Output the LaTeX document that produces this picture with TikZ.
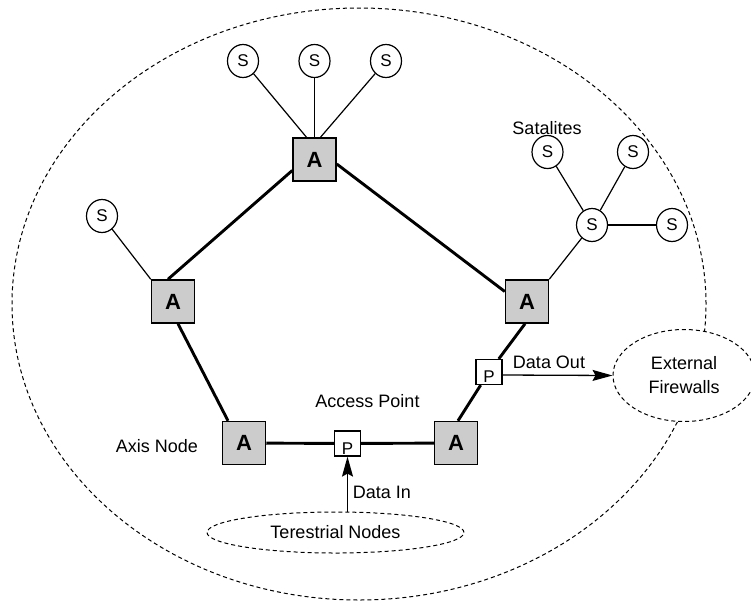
\documentclass[tikz,border=0pt]{standalone}
\usepackage{fontspec}
\setmainfont{Liberation Sans}
\usetikzlibrary{arrows.meta,shapes.geometric}
\tikzset{
  anode/.style={draw, line width=1.5pt, fill=gray!40, minimum size=43pt, inner sep=0pt,
    font=\fontsize{22}{22}\selectfont\bfseries},
  pnode/.style={draw, line width=1.2pt, fill=white, minimum width=26pt, minimum height=25pt,
    inner sep=0pt, text height=21pt, text depth=0pt, font=\fontsize{17}{17}\selectfont},
  snode/.style={draw, ellipse, line width=1.2pt, fill=white, minimum width=31pt,
    minimum height=33pt, inner sep=0pt, font=\fontsize{17}{17}\selectfont},
  hvy/.style={line width=2.9pt},
  lite/.style={line width=1.2pt},
  dell/.style={draw, ellipse, line width=1pt, dash pattern=on 4pt off 3pt, inner sep=0pt},
  lbl/.style={font=\fontsize{18}{18}\selectfont, inner sep=0pt},
  arr/.style={line width=1.3pt, -{Stealth[length=20pt,width=11pt,inset=3pt]}}
}
\begin{document}
\begin{tikzpicture}[x=1pt,y=-1pt]
\useasboundingbox (0,0) rectangle (751,608);
% outer region
\node[dell, minimum width=694pt, minimum height=592pt] (outer) at (359,304) {};
% external firewalls
\node[dell, fill=white, minimum width=142pt, minimum height=92pt, align=center,
  font=\fontsize{18}{24}\selectfont] (fw) at (684,375.5) {External\\Firewalls};
% terrestrial nodes
\node[dell, fill=white, minimum width=257pt, minimum height=41pt,
  font=\fontsize{18}{18}\selectfont] (terr) at (335.5,532.5) {Terestrial Nodes};

% axis nodes
\node[anode] (topA) at (314.5,159.5) {A};
\node[anode] (leftA) at (173,301.5) {A};
\node[anode] (rA) at (527,301.5) {A};
\node[anode] (blA) at (244,443) {A};
\node[anode] (brA) at (456,443) {A};

% access points
\node[pnode] (bP) at (347.5,443.5) {P};
\node[pnode] (rP) at (489,372) {P};

% satellites
\node[snode] (s1) at (243,61) {S};
\node[snode] (s2) at (314.5,61) {S};
\node[snode] (s3) at (386,61) {S};
\node[snode] (sl) at (102,216) {S};
\node[snode] (hub) at (592,225) {S};
\node[snode] (stl) at (547.5,152) {S};
\node[snode] (str) at (633,152) {S};
\node[snode] (sr) at (672,225) {S};

% heavy ring
\draw[hvy] ([yshift=-11pt]topA.west) -- ([xshift=-5pt]leftA.north);
\draw[hvy] ([yshift=-4.5pt]topA.east) -- ([yshift=10pt]rA.west);
\draw[hvy] ([xshift=5pt]leftA.south) -- ([xshift=-16pt]blA.north);
\draw[hvy] (blA) -- (bP);
\draw[hvy] (bP) -- (brA);
\draw[hvy] ([xshift=2pt]brA.north) -- (rP);
\draw[hvy] (rP) -- ([xshift=-2pt]rA.south);

% satellite links
\draw[lite] (s1) -- ([xshift=-8pt]topA.north);
\draw[lite] (s2) -- (topA.north);
\draw[lite] (s3) -- ([xshift=6pt]topA.north);
\draw[lite] (sl) -- (leftA.north west);
\draw[lite] (rA.north east) -- (hub);
\draw[lite] (hub) -- (stl);
\draw[lite] (hub) -- (str);
\draw[lite] (hub) -- (sr);

% data arrows
\draw[arr] (terr.north -| bP) -- (bP.south);
\draw[arr] ([yshift=-3pt]rP.east) -- (fw.west);

% labels
\node[lbl] (lsat) at (547,128) {Satalites};
\node[lbl] (laxis) at (157,446) {Axis Node};
\node[lbl] (lacc) at (367.5,401) {Access Point};
\node[lbl] (ldin) at (382,492) {Data In};
\node[lbl] (ldout) at (549,362) {Data Out};
\end{tikzpicture}
\end{document}
